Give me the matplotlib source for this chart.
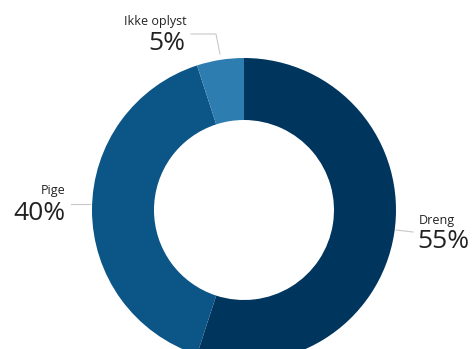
import matplotlib.pyplot as plt

# data
labels = ['Dreng', 'Pige', 'Ikke oplyst']
values = [55, 40, 5]
colors = ['#00355e', '#0b5687', '#2e7db1']

W, H = 477, 349
fig = plt.figure(figsize=(W / 100, H / 100), dpi=100)
ax = fig.add_axes([0, 0, 1, 1])

cx, cy = 244, H - 210
R = 152
ax.pie(values, colors=colors, startangle=90, counterclock=False,
       center=(cx, cy), radius=R, wedgeprops=dict(width=62, linewidth=0))

ax.set_xlim(0, W)
ax.set_ylim(0, H)
ax.set_aspect('equal')
ax.axis('off')

font = 'Open Sans'
lc = '#c8c8c8'
tc = '#222222'

# Ikke oplyst
ax.plot([191, 216, 220], [H - 34, H - 34, H - 54], color=lc, lw=0.8)
ax.text(187, H - 21, labels[2], fontsize=9, family=font, ha='right', va='center', color=tc)
ax.text(185, H - 44, f'{values[2]}%', fontsize=19, family=font, ha='right', va='center', color=tc)

# Pige
ax.plot([71, 90], [H - 204, H - 204], color=lc, lw=0.8)
ax.text(66, H - 191, labels[1], fontsize=9, family=font, ha='right', va='center', color=tc)
ax.text(66, H - 214, f'{values[1]}%', fontsize=19, family=font, ha='right', va='center', color=tc)

# Dreng
ax.plot([396, 413], [H - 230, H - 232], color=lc, lw=0.8)
ax.text(419, H - 221, labels[0], fontsize=9, family=font, ha='left', va='center', color=tc)
ax.text(417, H - 242, f'{values[0]}%', fontsize=19, family=font, ha='left', va='center', color=tc)

fig.savefig('out.png', dpi=100, facecolor='white')
